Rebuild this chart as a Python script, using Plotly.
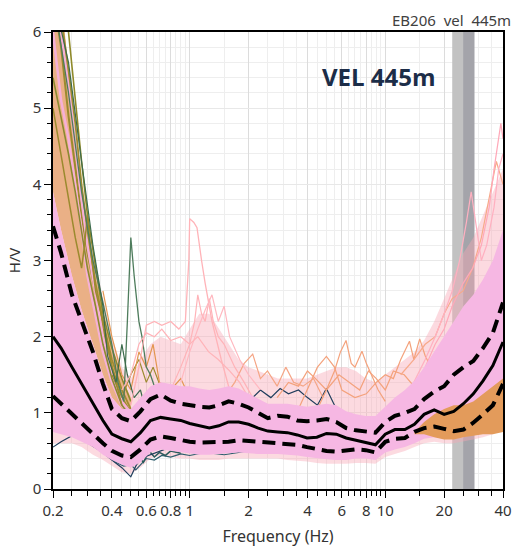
import plotly.graph_objects as go

# ---------------- data ----------------
freq = [0.2, 0.22, 0.25, 0.28, 0.32, 0.36, 0.4, 0.45, 0.5, 0.56, 0.63, 0.71, 0.8, 0.9, 1.0,
        1.12, 1.26, 1.41, 1.58, 1.78, 2.0, 2.24, 2.51, 2.82, 3.16, 3.55, 3.98, 4.47, 5.01,
        5.62, 6.31, 7.08, 7.94, 8.91, 10.0, 11.2, 12.6, 14.1, 15.8, 17.8, 20.0, 22.4, 25.1,
        28.2, 31.6, 35.5, 40.0]

hv_mean = [2.0, 1.85, 1.6, 1.38, 1.12, 0.9, 0.72, 0.66, 0.62, 0.74, 0.9, 0.94, 0.92, 0.9, 0.86,
           0.83, 0.8, 0.83, 0.88, 0.88, 0.85, 0.8, 0.76, 0.75, 0.74, 0.71, 0.67, 0.68, 0.73,
           0.72, 0.67, 0.64, 0.61, 0.58, 0.72, 0.78, 0.78, 0.85, 0.98, 1.04, 0.98, 1.02, 1.12,
           1.25, 1.42, 1.62, 1.93]
hv_plus = [3.45, 3.1, 2.55, 2.2, 1.8, 1.38, 1.05, 0.93, 0.89, 1.02, 1.18, 1.24, 1.16, 1.12, 1.1,
           1.08, 1.07, 1.1, 1.15, 1.12, 1.07, 1.0, 0.93, 0.96, 0.95, 0.9, 0.89, 0.9, 0.92,
           0.88, 0.8, 0.77, 0.75, 0.74, 0.88, 0.96, 1.0, 1.05, 1.18, 1.28, 1.35, 1.5, 1.6,
           1.68, 1.85, 2.05, 2.45]
hv_minus = [1.22, 1.12, 0.98, 0.85, 0.72, 0.6, 0.5, 0.44, 0.42, 0.52, 0.65, 0.69, 0.67, 0.64, 0.62,
            0.61, 0.61, 0.61, 0.62, 0.64, 0.63, 0.62, 0.61, 0.61, 0.6, 0.58, 0.55, 0.52, 0.5,
            0.49, 0.5, 0.52, 0.51, 0.48, 0.62, 0.66, 0.67, 0.75, 0.8, 0.82, 0.79, 0.76, 0.78,
            0.87, 0.98, 1.1, 1.38]

# dense core of the window curves
core_hi = [3.9, 3.4, 2.8, 2.35, 1.9, 1.5, 1.2, 1.05, 1.05, 1.2, 1.35, 1.4, 1.38, 1.35, 1.35,
           1.32, 1.3, 1.32, 1.35, 1.32, 1.25, 1.18, 1.12, 1.12, 1.12, 1.1, 1.08, 1.1, 1.12,
           1.1, 1.02, 0.98, 0.96, 0.96, 1.08, 1.2, 1.3, 1.42, 1.6, 1.8, 2.0, 2.2, 2.4,
           2.55, 2.75, 3.0, 3.4]
core_lo = [0.75, 0.72, 0.68, 0.62, 0.55, 0.45, 0.38, 0.32, 0.28, 0.35, 0.48, 0.52, 0.5, 0.48, 0.46,
           0.45, 0.45, 0.46, 0.47, 0.48, 0.47, 0.46, 0.46, 0.46, 0.45, 0.44, 0.42, 0.4, 0.39,
           0.38, 0.38, 0.4, 0.4, 0.38, 0.48, 0.52, 0.55, 0.6, 0.66, 0.68, 0.66, 0.66, 0.68,
           0.72, 0.76, 0.8, 0.9]
# sparse outer spread of the window curves
halo_hi = [6.5, 6.5, 5.0, 4.0, 3.1, 2.5, 2.0, 1.6, 1.45, 1.7, 1.9, 2.0, 1.95, 1.9, 2.1,
           2.3, 2.3, 2.1, 1.9, 1.7, 1.6, 1.55, 1.5, 1.45, 1.45, 1.45, 1.45, 1.5, 1.55,
           1.6, 1.6, 1.55, 1.45, 1.4, 1.5, 1.6, 1.7, 1.8, 1.95, 2.2, 2.5, 2.8, 3.1,
           3.3, 3.6, 3.9, 4.2]
halo_lo = [0.6, 0.6, 0.6, 0.55, 0.45, 0.38, 0.3, 0.22, 0.2, 0.28, 0.4, 0.44, 0.42, 0.4, 0.4,
           0.38, 0.38, 0.38, 0.4, 0.4, 0.4, 0.4, 0.4, 0.4, 0.38, 0.37, 0.36, 0.34, 0.33,
           0.33, 0.33, 0.34, 0.34, 0.33, 0.42, 0.46, 0.5, 0.55, 0.6, 0.62, 0.6, 0.6, 0.62,
           0.65, 0.68, 0.72, 0.8]
# low-frequency wedge (first 9 frequencies)
wedge_hi = [6.5, 6.5, 5.0, 4.0, 3.0, 2.3, 1.85, 1.45, 1.2]
# high-frequency orange group (last 10 frequencies)
hf_orange_hi = [0.75, 0.88, 0.98, 1.05, 1.1, 1.1, 1.15, 1.25, 1.35, 1.45]
hf_orange_lo = [0.72, 0.72, 0.68, 0.65, 0.65, 0.68, 0.7, 0.72, 0.72, 0.75]

# individual window curves that stick out of the mass
wedge_f = [0.2, 0.22, 0.24, 0.26, 0.28, 0.3, 0.33, 0.36, 0.4, 0.45, 0.5]
olive_a_v = [6.5, 5.8, 4.9, 4.2, 3.6, 3.1, 2.6, 2.1, 1.6, 1.2, 1.0]
olive_b_v = [6.5, 6.5, 6.0, 5.1, 4.3, 3.6, 2.9, 2.3, 1.85, 1.45, 1.15]
olive_e_v = [6.5, 6.2, 5.5, 4.8, 4.0, 3.4, 2.7, 2.2, 1.7, 1.3, 1.05]
olive_g_v = [5.4, 4.9, 4.4, 3.9, 3.4, 2.9, 2.4, 1.9, 1.45, 1.1, 0.95]
pink_w_v = [6.5, 6.0, 5.3, 4.5, 3.8, 3.2, 2.6, 2.0, 1.5, 1.15, 1.0]
pink_w2_v = [6.0, 5.1, 4.6, 4.0, 3.4, 2.8, 2.3, 1.8, 1.4, 1.1, 0.95]
olive_c_f = [0.2, 0.22, 0.24, 0.26, 0.28, 0.29, 0.3, 0.31, 0.33, 0.36, 0.4, 0.45]
olive_c_v = [5.0, 4.4, 3.8, 3.3, 2.9, 3.2, 3.6, 3.2, 2.6, 2.2, 1.6, 1.1]
olive_d_f = [0.4, 0.45, 0.5, 0.55, 0.6, 0.65, 0.72, 0.8, 0.9]
olive_d_v = [1.5, 1.2, 1.5, 1.7, 1.4, 1.6, 1.3, 1.25, 1.1]
green_a_f = [0.2, 0.24, 0.28, 0.32, 0.36, 0.4, 0.43, 0.46, 0.48, 0.5, 0.52, 0.55, 0.57, 0.6, 0.63, 0.67, 0.72]
green_a_v = [6.5, 5.2, 3.9, 3.0, 2.45, 1.9, 1.4, 1.15, 2.2, 3.3, 2.8, 2.2, 2.0, 1.6, 1.5, 1.3, 1.1]
green_b_f = [0.2, 0.24, 0.28, 0.32, 0.36, 0.38, 0.42, 0.45, 0.48, 0.52, 0.56, 0.6]
green_b_v = [6.5, 5.6, 4.3, 3.2, 2.4, 1.75, 1.4, 1.9, 1.5, 1.2, 1.3, 1.0]
teal_a_f = [0.2, 0.25, 0.3, 0.36, 0.42, 0.46, 0.5, 0.53, 0.56, 0.6, 0.66, 0.72, 0.8, 0.9, 1.0, 1.2, 1.5, 2.0]
teal_a_v = [0.8, 0.75, 0.62, 0.48, 0.35, 0.3, 0.32, 0.25, 0.32, 0.4, 0.38, 0.44, 0.42, 0.46, 0.44, 0.48, 0.45, 0.5]
teal_b_f = [0.45, 0.5, 0.54, 0.58, 0.62, 0.66, 0.7, 0.75, 0.8, 0.9]
teal_b_v = [0.4, 0.3, 0.45, 0.35, 0.5, 0.42, 0.48, 0.44, 0.5, 0.47]
navy_a_f = [0.2, 0.22, 0.25, 0.28, 0.32, 0.36, 0.4, 0.45, 0.5, 0.53, 0.56, 0.63, 0.71, 0.8, 1.0, 1.3,
            1.6, 1.9, 2.1, 2.3, 2.6, 2.9, 3.2, 3.6, 4.0, 4.5, 5.0, 5.5, 6.2, 7.0, 8.0, 9.0]
navy_a_v = [0.55, 0.62, 0.7, 0.66, 0.56, 0.48, 0.38, 0.28, 0.16, 0.3, 0.4, 0.45, 0.5, 0.55, 0.55, 0.6,
            0.7, 0.9, 1.2, 1.3, 1.2, 1.32, 1.25, 1.3, 1.2, 1.1, 1.32, 1.1, 0.9, 0.75, 0.65, 0.6]
orange_e_f = [0.36, 0.4, 0.45, 0.5, 0.55, 0.6, 0.65, 0.7, 0.8, 0.9, 1.0]
orange_e_v = [2.6, 2.0, 1.5, 1.3, 1.8, 1.6, 1.9, 1.4, 1.3, 1.45, 1.2]
salmon_a_f = [4.5, 5.0, 5.5, 5.9, 6.3, 6.7, 7.0, 7.3, 7.6, 8.0, 8.5, 9.2, 10.0]
salmon_a_v = [1.05, 1.3, 1.55, 1.8, 1.95, 1.65, 1.6, 1.7, 1.81, 1.65, 1.5, 1.3, 1.15]
salmon_b_f = [3.6, 4.0, 4.5, 5.0, 5.5, 6.0, 7.0, 8.0, 9.0, 10.0, 11.0, 12.0, 13.3, 14.0, 15.0, 16.0, 17.5, 19.0]
salmon_b_v = [1.05, 1.3, 1.6, 1.74, 1.6, 1.3, 1.2, 1.25, 1.4, 1.5, 1.45, 1.7, 1.94, 1.7, 1.97, 1.75, 1.55, 1.7]
salmon_c_f = [1.5, 1.7, 1.9, 2.1, 2.3, 2.5, 2.8, 3.1, 3.4, 3.8, 4.3, 4.8]
salmon_c_v = [1.2, 1.4, 1.65, 1.77, 1.45, 1.55, 1.35, 1.6, 1.4, 1.35, 1.45, 1.2]
salmon_d_f = [2.8, 3.2, 3.6, 4.0, 4.4, 5.0, 5.8, 6.6, 7.4, 8.2, 9.0, 10.0, 11.0, 12.5, 14.0]
salmon_d_v = [1.2, 1.4, 1.35, 1.55, 1.45, 1.3, 1.5, 1.4, 1.3, 1.55, 1.45, 1.3, 1.55, 1.5, 1.35]
salmon_hf_f = [12, 14, 16, 18, 20, 22, 25, 28, 31, 34, 37, 40]
salmon_hf_v = [1.5, 1.7, 1.9, 2.0, 2.3, 2.5, 2.6, 2.9, 3.3, 3.8, 4.3, 4.0]
pink_spike_f = [0.5, 0.55, 0.6, 0.66, 0.72, 0.8, 0.88, 0.95, 0.99, 1.0, 1.05, 1.09, 1.15, 1.2, 1.3, 1.45, 1.6]
pink_spike_v = [1.1, 1.6, 2.15, 2.2, 2.15, 2.2, 2.1, 2.2, 3.0, 3.55, 3.5, 3.43, 3.0, 2.7, 2.2, 1.7, 1.3]
pink_b_f = [0.8, 0.9, 1.0, 1.06, 1.1, 1.15, 1.2, 1.26, 1.32, 1.4, 1.5, 1.7, 1.9, 2.1]
pink_b_v = [1.3, 1.6, 1.9, 2.2, 2.55, 2.3, 2.2, 2.5, 2.2, 2.0, 1.9, 1.6, 1.4, 1.2]
pink_c_f = [0.9, 1.0, 1.1, 1.2, 1.3, 1.4, 1.5, 1.6, 1.8, 2.0, 2.3]
pink_c_v = [1.4, 1.8, 2.1, 2.35, 2.55, 2.2, 2.4, 2.0, 1.7, 1.5, 1.3]
pink_d_f = [0.45, 0.5, 0.55, 0.6, 0.66, 0.72, 0.8, 0.9, 1.0, 1.1, 1.25, 1.4, 1.6, 1.8, 2.0]
pink_d_v = [1.3, 1.5, 1.9, 2.05, 2.0, 2.1, 1.95, 2.0, 1.9, 2.0, 1.8, 1.7, 1.55, 1.4, 1.2]
pink_hf_a_f = [14, 16, 18, 20, 22, 24, 26, 27.5, 29, 31, 33, 36, 38, 40]
pink_hf_a_v = [1.4, 1.7, 2.0, 2.3, 2.6, 3.0, 3.5, 3.9, 3.5, 3.0, 3.2, 3.7, 4.2, 4.4]
pink_hf_b_f = [16, 18, 20, 22, 25, 28, 31, 34, 36, 38, 39, 40]
pink_hf_b_v = [1.6, 1.9, 2.1, 2.4, 2.7, 2.9, 3.2, 3.7, 4.2, 4.6, 4.8, 4.6]

peak_band = [22.0, 25.0, 28.6]  # f0 - std, f0, f0 + std

x_major = [0.2, 0.4, 0.6, 0.8, 1, 2, 4, 6, 8, 10, 20, 40]
x_major_text = ["0.2", "0.4", "0.6", "0.8", "1", "2", "4", "6", "8", "10", "20", "40"]
x_minor = [0.25, 0.3, 0.35, 0.45, 0.5, 0.55, 0.65, 0.7, 0.75, 0.85, 0.9, 0.95, 1.5, 2.5, 3, 3.5,
           4.5, 5, 5.5, 6.5, 7, 7.5, 8.5, 9, 9.5, 15, 25, 30, 35]
y_major = [0, 1, 2, 3, 4, 5, 6]
Y_MAX = 6

# ---------------- figure ----------------
PINK = "#f6b7e3"
fig = go.Figure()


def band(fx, lo, hi, color):
    fig.add_trace(go.Scatter(x=fx, y=lo, mode="lines", line=dict(width=0), showlegend=False,
                             hoverinfo="skip"))
    fig.add_trace(go.Scatter(x=fx, y=hi, mode="lines", line=dict(width=0), fill="tonexty",
                             fillcolor=color, showlegend=False, hoverinfo="skip"))


def curve(fx, v, color, w=1.0):
    fig.add_trace(go.Scatter(x=fx, y=v, mode="lines", line=dict(color=color, width=w),
                             showlegend=False, hoverinfo="skip"))


# peak-frequency band (drawn first so that all curves lie on top of it)
band([peak_band[0], peak_band[1]], [0, 0], [Y_MAX, Y_MAX], "#c2c2c2")
band([peak_band[1], peak_band[2]], [0, 0], [Y_MAX, Y_MAX], "#a4a4aa")

band(freq, halo_lo, halo_hi, "rgba(247,168,180,0.42)")
band(freq[:9], core_hi[:9], wedge_hi, "#eab086")

curve(wedge_f, olive_a_v, "#9b8a2e", 2.0)
curve(wedge_f, pink_w_v, "#f5b0d8", 2.5)
curve(wedge_f, olive_b_v, "#8f8a2a", 1.6)
curve(wedge_f, olive_e_v, "#a08c30", 1.8)
curve(wedge_f, pink_w2_v, "#f5b0d8", 2.5)
curve(wedge_f, olive_g_v, "#8a8a30", 1.6)
curve(olive_c_f, olive_c_v, "#9b8a2e", 1.5)
curve(olive_d_f, olive_d_v, "#9b8a2e", 1.2)
curve(orange_e_f, orange_e_v, "#e39650", 1.2)
curve(green_a_f, green_a_v, "#4e7c5c", 1.3)
curve(green_b_f, green_b_v, "#3c6b4c", 1.2)
curve(teal_a_f, teal_a_v, "#2e5e6e", 1.2)
curve(teal_b_f, teal_b_v, "#2a5a5a", 1.5)
curve(navy_a_f, navy_a_v, "#1f3d5c", 1.2)
curve(salmon_a_f, salmon_a_v, "#f4a27c", 1.2)
curve(salmon_b_f, salmon_b_v, "#f4a27c", 1.2)
curve(salmon_c_f, salmon_c_v, "#f5a585", 1.2)
curve(salmon_d_f, salmon_d_v, "#f4a27c", 1.2)
curve(salmon_hf_f, salmon_hf_v, "#f7a98a", 1.2)
curve(pink_spike_f, pink_spike_v, "#ffb3b8", 1.3)
curve(pink_b_f, pink_b_v, "#ffb3b8", 1.2)
curve(pink_c_f, pink_c_v, "#ffb8c0", 1.2)
curve(pink_d_f, pink_d_v, "#ffb3b8", 1.2)
curve(pink_hf_a_f, pink_hf_a_v, "#ffb0c0", 1.2)
curve(pink_hf_b_f, pink_hf_b_v, "#ffa8b8", 1.2)

band(freq, core_lo, core_hi, PINK)
band(freq[37:], hf_orange_lo, hf_orange_hi, "#e39b5b")

fig.add_trace(go.Scatter(x=freq, y=hv_plus, mode="lines",
                         line=dict(color="black", width=4, dash="13px,7px"),
                         showlegend=False, hoverinfo="skip"))
fig.add_trace(go.Scatter(x=freq, y=hv_minus, mode="lines",
                         line=dict(color="black", width=4, dash="13px,7px"),
                         showlegend=False, hoverinfo="skip"))
fig.add_trace(go.Scatter(x=freq, y=hv_mean, mode="lines",
                         line=dict(color="black", width=3),
                         showlegend=False, hoverinfo="skip"))

FONT = "Noto Sans"
fig.update_layout(
    width=521, height=552,
    margin=dict(l=53, r=9, t=32, b=61),
    paper_bgcolor="white", plot_bgcolor="white",
    font=dict(family=FONT, size=15, color="#333333"),
    showlegend=False,
)
fig.update_xaxes(
    type="log", range=[-0.69897, 1.60206],
    tickvals=x_major, ticktext=x_major_text,
    ticks="outside", ticklen=7, tickcolor="black",
    showline=True, linecolor="black", linewidth=1.5, mirror=True,
    showgrid=True, gridcolor="#dcdcdc", gridwidth=1,
    minor=dict(tickvals=x_minor, ticks="outside", ticklen=5, tickcolor="black",
               showgrid=True, gridcolor="#eeeeee", gridwidth=1),
    title=dict(text="Frequency (Hz)", standoff=12, font=dict(size=16)),
    zeroline=False,
)
fig.update_yaxes(
    range=[0, Y_MAX], tickvals=y_major,
    ticks="outside", ticklen=7, tickcolor="black",
    showline=True, linecolor="black", linewidth=1.5, mirror=True,
    showgrid=True, gridcolor="#e8e8e8", gridwidth=1,
    minor=dict(dtick=0.2, ticks="outside", ticklen=4, tickcolor="black",
               showgrid=True, gridcolor="#eeeeee", gridwidth=1),
    title=dict(text="H/V", standoff=8, font=dict(size=15)),
    zeroline=False,
)
fig.add_annotation(text="EB206  vel  445m", xref="paper", yref="paper", x=1.0, y=1.0,
                   xanchor="right", yanchor="bottom", yshift=0, xshift=10, showarrow=False,
                   font=dict(family=FONT, size=15, color="#404040"))
fig.add_annotation(text="<b>VEL 445m</b>", xref="paper", yref="paper", x=0.725, y=0.902,
                   xanchor="center", yanchor="middle", showarrow=False,
                   font=dict(family="Open Sans", size=24, color="#1c2d48"))

fig.write_html("out.html")
